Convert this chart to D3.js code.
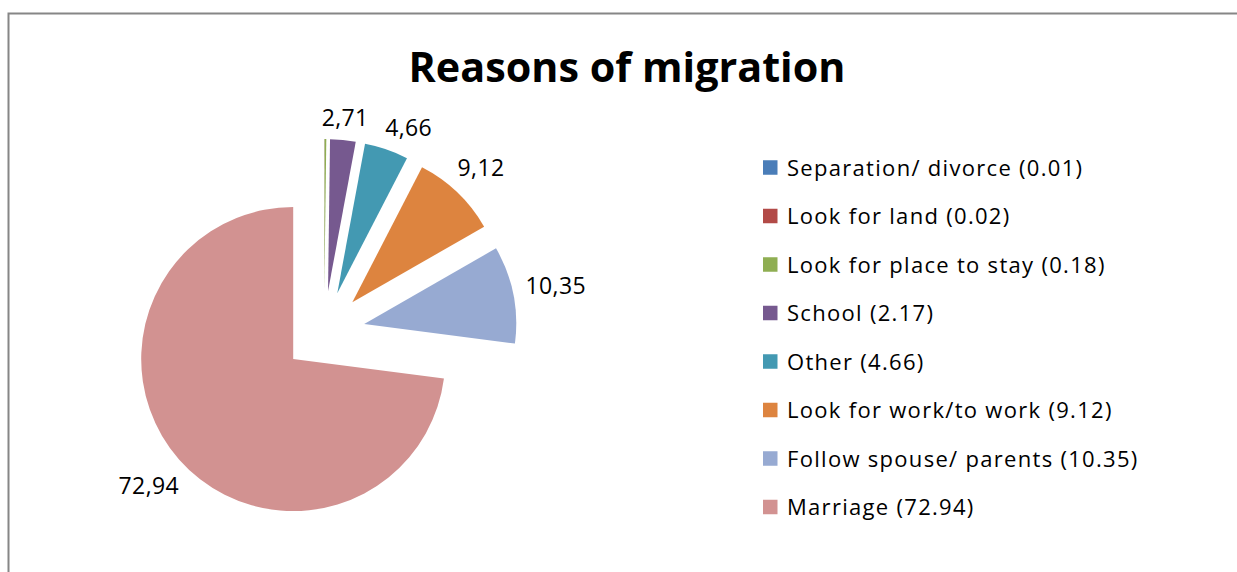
<!DOCTYPE html>
<html>
<head>
<meta charset="utf-8">
<script src="https://cdn.jsdelivr.net/npm/d3@7"></script>
<style>
  body { margin: 0; background: #fff; }
  svg { display: block; font-family: "Open Sans", "Noto Sans", sans-serif; }
</style>
</head>
<body>
<svg id="chart" width="1237" height="572"></svg>
<script>
const title = "Reasons of migration";
const categories = ["Separation/ divorce", "Look for land", "Look for place to stay", "School",
    "Other", "Look for work/to work", "Follow spouse/ parents", "Marriage"];
const values = [0.01, 0.02, 0.18, 2.71, 4.66, 9.12, 10.35, 72.94];
// legend numbers as printed in the original (School says 2.17 there)
const legendNumbers = ["0.01", "0.02", "0.18", "2.17", "4.66", "9.12", "10.35", "72.94"];
const colors = ["#4A7DB8", "#B24A47", "#8FAE52", "#76598F", "#4399B2", "#DD843F", "#97AAD2", "#D29291"];

const svg = d3.select("#chart");
const W = 1237, H = 572;

// chart area border (only top and left are inside the picture)
svg.append("rect")
    .attr("x", 8.5).attr("y", 13.5)
    .attr("width", W + 20).attr("height", H + 20)
    .attr("fill", "none").attr("stroke", "#868686").attr("stroke-width", 2);

// title, fitted to the width of the original
function fitText(sel, target) {
    let size = +sel.attr("font-size");
    let w = sel.node().getComputedTextLength();
    sel.attr("font-size", size * target / w);
}
let t = svg.append("text")
    .attr("x", 627).attr("y", 82)
    .attr("text-anchor", "middle")
    .attr("font-size", 38).attr("font-weight", "bold")
    .attr("fill", "#000")
    .text(title);
fitText(t, 437);

// pie
const cx = 324, cy = 332, radius = 152, explode = 41;
const pie = d3.pie().sort(null).value(d => d);
const arcs = pie(values);
const arc = d3.arc().innerRadius(0).outerRadius(radius);

function dirOf(a) {
    let m = (a.startAngle + a.endAngle) / 2;
    return [Math.sin(m), -Math.cos(m)];
}

let g = svg.append("g").attr("transform", `translate(${cx},${cy})`);
g.selectAll("path.slice")
    .data(arcs)
    .enter()
    .append("path")
    .attr("class", "slice")
    .attr("d", arc)
    .attr("fill", (d, i) => colors[i])
    .attr("transform", d => {
        let [dx, dy] = dirOf(d);
        return `translate(${dx * explode},${dy * explode})`;
    });

// data labels, outside end
const labelSize = 23, digitH = labelSize * 0.72, pad = 12;
const fmt = v => d3.format(".2f")(v).replace(".", ",");
let placed = [];
arcs.forEach((d, i) => {
    if (d.value < 1) return;
    let lab = g.append("text")
        .attr("font-size", labelSize)
        .attr("letter-spacing", 0.4)
        .attr("fill", "#000")
        .attr("text-anchor", "middle")
        .text(fmt(d.value));
    let w = lab.node().getComputedTextLength();
    let [dx, dy] = dirOf(d);
    let e = Math.abs(dx) * w / 2 + Math.abs(dy) * digitH / 2;
    let dist = explode + radius + pad + e;
    let x = dx * dist, y = dy * dist;
    // push along the circle while it crowds the previous label
    let prev = placed[placed.length - 1];
    let k = 0;
    while (prev && k < 200 &&
           x - w / 2 < prev.x + prev.w / 2 + 16 &&
           Math.abs(y - prev.y) < digitH + 6) {
        x += -dy; y += dx; k++;
    }
    placed.push({x, y, w});
    lab.attr("x", x).attr("y", y + digitH / 2);
});

// legend
const legX = 763, legY0 = 167.5, legStep = 48.5, box = 14.5;
let leg = svg.append("g");
let items = leg.selectAll("g.item")
    .data(categories)
    .enter()
    .append("g")
    .attr("class", "item")
    .attr("transform", (d, i) => `translate(${legX},${legY0 + i * legStep})`);
items.append("rect")
    .attr("x", 0).attr("y", -box / 2)
    .attr("width", box).attr("height", box)
    .attr("fill", (d, i) => colors[i]);
items.append("text")
    .attr("x", 24).attr("y", 8)
    .attr("font-size", 22)
    .attr("letter-spacing", 1.3)
    .attr("fill", "#000")
    .text((d, i) => `${d} (${legendNumbers[i]})`);
</script>
</body>
</html>
